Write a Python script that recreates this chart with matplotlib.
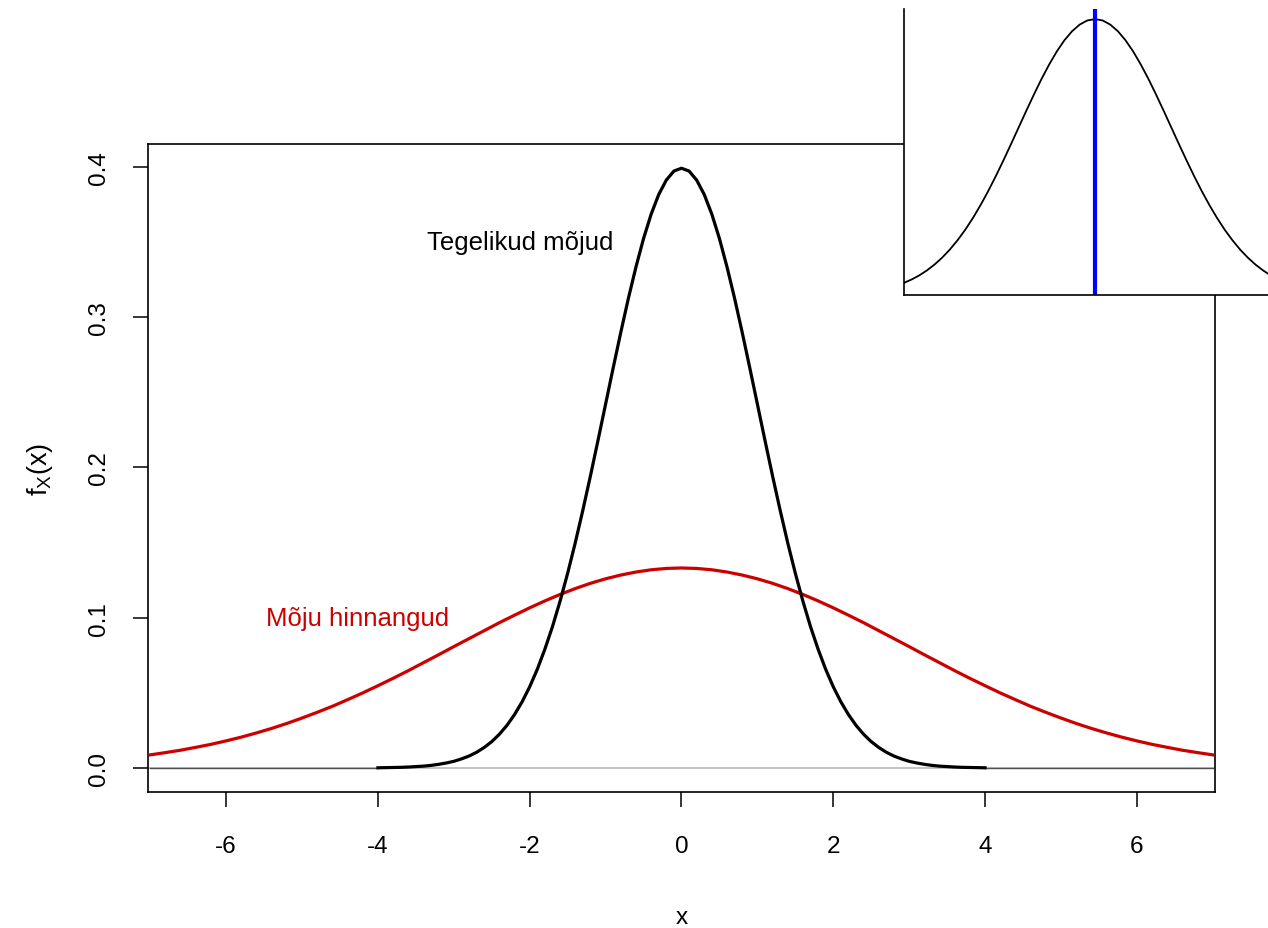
import numpy as np
import matplotlib
matplotlib.use("Agg")
import matplotlib.pyplot as plt

plt.rcParams["font.family"] = ["Liberation Sans", "DejaVu Sans"]
plt.rcParams["mathtext.fontset"] = "custom"
plt.rcParams["mathtext.rm"] = "Liberation Sans"
plt.rcParams["mathtext.it"] = "Liberation Sans"

# True effects: density on a 0.1 grid from -4 to 4
true_x = np.round(np.arange(-4.0, 4.0001, 0.1), 1)
true_y = [
    0.0001, 0.0002, 0.0003, 0.0004, 0.0006, 0.0009, 0.0012, 0.0017, 0.0024, 0.0033,
    0.0044, 0.0060, 0.0079, 0.0104, 0.0136, 0.0175, 0.0224, 0.0283, 0.0355, 0.0440,
    0.0540, 0.0656, 0.0790, 0.0940, 0.1109, 0.1295, 0.1497, 0.1714, 0.1942, 0.2179,
    0.2420, 0.2661, 0.2897, 0.3123, 0.3332, 0.3521, 0.3683, 0.3814, 0.3910, 0.3970,
    0.3989,
    0.3970, 0.3910, 0.3814, 0.3683, 0.3521, 0.3332, 0.3123, 0.2897, 0.2661, 0.2420,
    0.2179, 0.1942, 0.1714, 0.1497, 0.1295, 0.1109, 0.0940, 0.0790, 0.0656, 0.0540,
    0.0440, 0.0355, 0.0283, 0.0224, 0.0175, 0.0136, 0.0104, 0.0079, 0.0060, 0.0044,
    0.0033, 0.0024, 0.0017, 0.0012, 0.0009, 0.0006, 0.0004, 0.0003, 0.0002, 0.0001,
]

# Effect estimates: density on a 0.2 grid from -7 to 7
est_x = np.round(np.arange(-7.0, 7.0001, 0.2), 1)
est_y = [
    0.0087, 0.0102, 0.0118, 0.0137, 0.0157, 0.0180, 0.0205, 0.0233, 0.0263, 0.0296,
    0.0332, 0.0370, 0.0410, 0.0454, 0.0499, 0.0547, 0.0596, 0.0647, 0.0700, 0.0753,
    0.0807, 0.0860, 0.0913, 0.0966, 0.1016, 0.1065, 0.1111, 0.1154, 0.1193, 0.1228,
    0.1258, 0.1283, 0.1303, 0.1318, 0.1327, 0.1330,
    0.1327, 0.1318, 0.1303, 0.1283, 0.1258, 0.1228, 0.1193, 0.1154, 0.1111, 0.1065,
    0.1016, 0.0966, 0.0913, 0.0860, 0.0807, 0.0753, 0.0700, 0.0647, 0.0596, 0.0547,
    0.0499, 0.0454, 0.0410, 0.0370, 0.0332, 0.0296, 0.0263, 0.0233, 0.0205, 0.0180,
    0.0157, 0.0137, 0.0118, 0.0102, 0.0087,
]

x_ticks = [-6, -4, -2, 0, 2, 4, 6]
y_ticks = [0.0, 0.1, 0.2, 0.3, 0.4]
true_label = "Tegelikud mõjud"
est_label = "Mõju hinnangud"
red = "#CD0000"
fs = 17.5

fig = plt.figure(figsize=(12.68, 9.29), dpi=100)
ax = fig.add_axes([0.1167, 0.1464, 0.8415, 0.6975])

# zero line, with the flat tails of the true-effect curve
ax.axhline(0, color="#BEBEBE", lw=1.3, zorder=1)
ax.plot([-7, -4], [0, 0], color="#505050", lw=1.0, zorder=1)
ax.plot([4, 7], [0, 0], color="#505050", lw=1.0, zorder=1)

ax.plot(est_x, est_y, color=red, lw=2.3, zorder=3)
ax.plot(true_x, true_y, color="black", lw=2.3, zorder=4)

ax.text(-2.13, 0.35, true_label, ha="center", va="center", fontsize=18.5)
ax.text(-4.27, 0.1, est_label, ha="center", va="center", fontsize=18.5, color=red)

ax.set_xlim(-7.03, 7.03)
ax.set_ylim(-0.016, 0.415)
ax.set_xticks(x_ticks)
ax.set_xticklabels([str(t) for t in x_ticks])
ax.set_yticks(y_ticks)
ax.set_yticklabels([f"{t:.1f}" for t in y_ticks], rotation=90, va="center")
ax.tick_params(axis="both", direction="out", length=11, width=1.1, labelsize=fs)
ax.tick_params(axis="x", pad=20)
ax.tick_params(axis="y", pad=16)
for sp in ax.spines.values():
    sp.set_linewidth(1.2)

ax.set_xlabel("x", fontsize=fs, labelpad=35)
ax.set_ylabel(r"$\mathregular{f_X(x)}$", fontsize=fs + 2, labelpad=24)

# inset: true effect distribution with its centre marked
ins = fig.add_axes([0.7129, 0.6814, 0.3013, 0.3078])
ins.set_facecolor("white")
ins.plot(true_x, true_y, color="black", lw=1.3)
ins.axvline(0, color="#0000FF", lw=3)
ins.set_xlim(-2.5, 2.5)
ins.set_ylim(0, 0.4135)
ins.set_xticks([])
ins.set_yticks([])
ins.spines["top"].set_visible(False)
ins.spines["right"].set_visible(False)
for side in ("left", "bottom"):
    ins.spines[side].set_linewidth(1.2)

fig.savefig("out.png", dpi=100)
